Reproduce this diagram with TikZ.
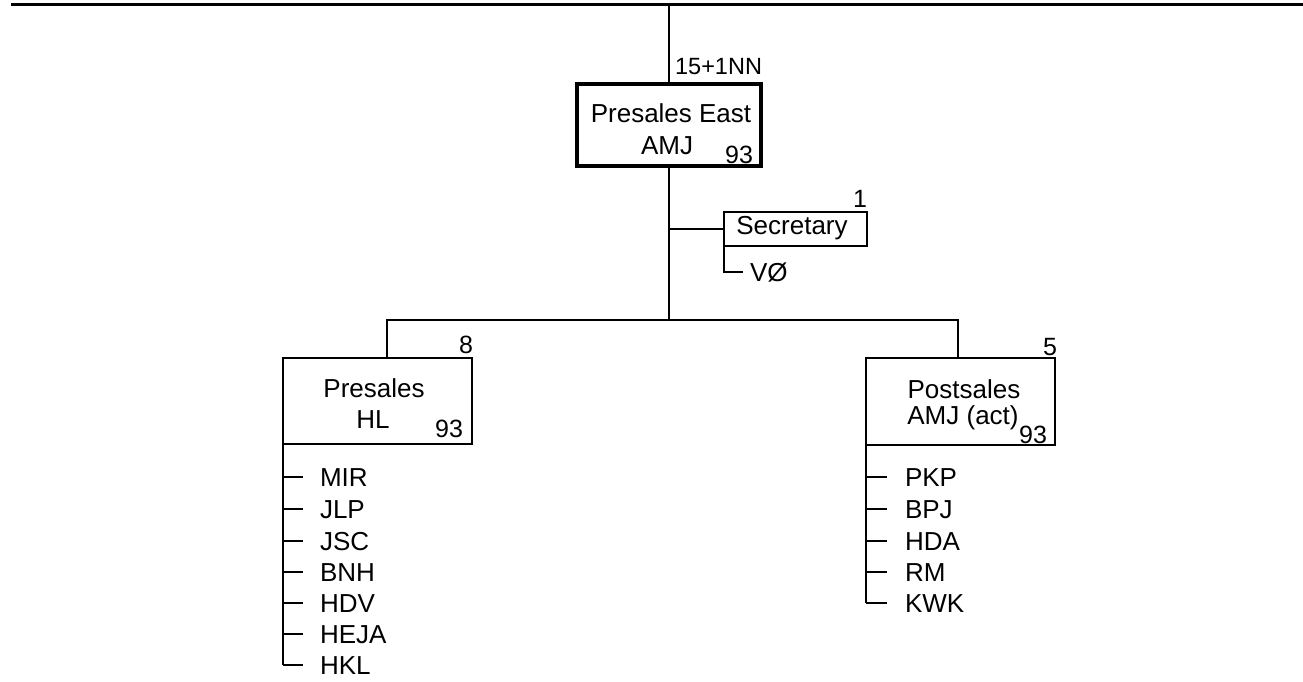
\documentclass[tikz,border=0pt]{standalone}
\usepackage{fontspec}
\setmainfont{Liberation Sans}
\begin{document}
\begin{tikzpicture}[x=1pt,y=-1pt,
  every node/.style={inner sep=0pt,outer sep=0pt},
  txt/.style={font=\fontsize{26}{31}\selectfont},
  num/.style={font=\fontsize{25}{30}\selectfont},
  ln/.style={line width=2pt},
  box/.style={draw,line width=2pt,rectangle},
  bigbox/.style={draw,line width=4.5pt,rectangle}]
\useasboundingbox (0,0) rectangle (1303,682);

% boxes
\node[bigbox,minimum width=184pt,minimum height=82pt] (east) at (669,125) {};
\node[box,minimum width=143pt,minimum height=34pt] (sec) at (795.5,229) {};
\node[box,minimum width=189pt,minimum height=86pt] (pre) at (377.5,401) {};
\node[box,minimum width=189pt,minimum height=87pt] (post) at (960.5,401.5) {};

% box texts
\node[txt,anchor=base] (eastA) at (671,123) {Presales East};
\node[txt,anchor=base] (eastB) at (667,154) {AMJ};
\node[num,anchor=base east] (eastN) at (753,163) {93};
\node[num,anchor=base east] (eastC) at (762,75) {\fontsize{23.5}{28}\selectfont 15+1NN};

\node[txt,anchor=base] (secA) at (792,234) {Secretary};
\node[num,anchor=base east] (secC) at (867,207) {1};

\node[txt,anchor=base] (preA) at (374,397) {Presales};
\node[txt,anchor=base] (preB) at (373,428) {HL};
\node[num,anchor=base east] (preN) at (463,437) {93};
\node[num,anchor=base east] (preC) at (473,353) {8};

\node[txt,anchor=base] (postA) at (964,398) {Postsales};
\node[txt,anchor=base] (postB) at (963,424) {AMJ (act)};
\node[num,anchor=base east] (postN) at (1047,443) {93};
\node[num,anchor=base east] (postC) at (1057,355) {5};

% top rule and main connectors
\coordinate (tl) at (11,5);
\coordinate (tr) at (1303,5);
\draw[line width=3pt] (tl) -- (tr);
\coordinate (ttop) at (669,5);
\draw[ln] (ttop) -- (east.north);
\coordinate (jc) at (669,320);
\draw[ln] (east.south) -- (jc);
\coordinate (jl) at (387,320);
\coordinate (jr) at (958,320);
\draw[ln] (jl |- pre.north) -- (jl) -- (jr) -- (jr |- post.north);
\draw[ln] (east.south |- sec.west) -- (sec.west);

% secretary member
\coordinate (vo) at (743,272);
\draw[ln] (sec.south west) |- (vo);
\node[txt,anchor=base west] (voN) at (750,281) {VØ};

% presales list
\foreach \n/\y in {MIR/477,JLP/509,JSC/541,BNH/572,HDV/603,HEJA/634,HKL/665}{
  \node[txt,anchor=base west] (l-\n) at (320,\y+9) {\n};
  \coordinate (lt-\n) at (303,\y);
  \draw[ln] (lt-\n -| pre.west) -- (lt-\n);
}
\draw[ln] (pre.south west) -- (pre.south west |- lt-HKL);

% postsales list
\foreach \n/\y in {PKP/477,BPJ/509,HDA/541,RM/572,KWK/603}{
  \node[txt,anchor=base west] (r-\n) at (905,\y+9) {\n};
  \coordinate (rt-\n) at (887,\y);
  \draw[ln] (rt-\n -| post.west) -- (rt-\n);
}
\draw[ln] (post.south west) -- (post.south west |- rt-KWK);
\end{tikzpicture}
\end{document}
